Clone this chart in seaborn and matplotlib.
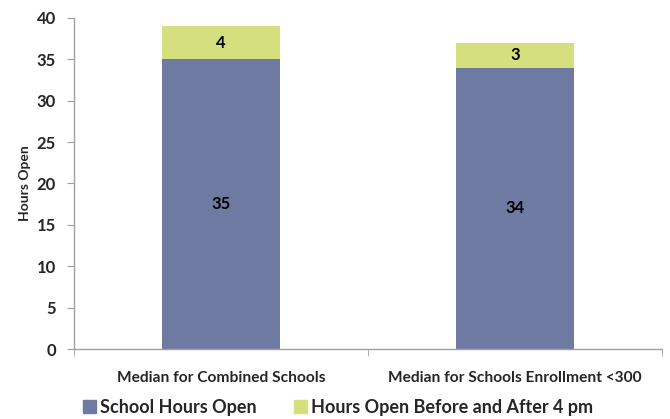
import pandas as pd
import seaborn as sns
import matplotlib.pyplot as plt
from matplotlib.patches import Patch

categories = ['Median for Combined Schools', 'Median for Schools Enrollment <300']
school_hours = [35, 34]
extra_hours = [4, 3]
series_names = ['School Hours Open', 'Hours Open Before and After 4 pm']
blue = '#6f7aa3'
green = '#d5df7d'

sns.set_style('white')
plt.rcParams['font.family'] = ['Lato', 'DejaVu Sans']

df = pd.DataFrame({'cat': categories, 'school': school_hours, 'extra': extra_hours})
df['total'] = df['school'] + df['extra']

fig = plt.figure(figsize=(6.7, 4.19), dpi=100)
ax = fig.add_axes([74 / 670, 1 - 349 / 419, 588 / 670, 331 / 419])

sns.barplot(data=df, x='cat', y='total', color=green, saturation=1, width=0.4,
            linewidth=0, ax=ax)
sns.barplot(data=df, x='cat', y='school', color=blue, saturation=1, width=0.4,
            linewidth=0, ax=ax)

for i, row in df.iterrows():
    ax.text(i, row['school'] / 2, str(row['school']), ha='center', va='center',
            fontsize=12, fontweight='bold', color='black')
    ax.text(i, row['school'] + row['extra'] / 2, str(row['extra']), ha='center', va='center',
            fontsize=12, fontweight='bold', color='black')

ax.set_xlim(-0.5, 1.5)
ax.set_ylim(0, 40)
ax.set_yticks(range(0, 41, 5))
ax.set_yticklabels([str(v) for v in range(0, 41, 5)], fontsize=12, fontweight='bold')
ax.set_xticks([0, 1])
ax.set_xticklabels(categories, fontsize=11.2, fontweight='bold')
ax.set_xticks([-0.5, 0.5, 1.5], minor=True)
ax.tick_params(axis='x', which='major', length=0, pad=16)
ax.tick_params(axis='x', which='minor', length=5, color='#a0a0a0', direction='out', bottom=True)
ax.tick_params(axis='y', length=5, color='#a0a0a0', direction='out', left=True, pad=8)
ax.set_xlabel('')
ax.set_ylabel('Hours Open', fontsize=10, fontweight='bold', labelpad=4)

for side in ['top', 'right']:
    ax.spines[side].set_visible(False)
for side in ['left', 'bottom']:
    ax.spines[side].set_color('#a0a0a0')
    ax.spines[side].set_linewidth(1)

handles = [Patch(color=blue, label=series_names[0]), Patch(color=green, label=series_names[1])]
fig.legend(handles=handles, loc='center', bbox_to_anchor=(0.505, 1 - 407 / 419), ncol=2,
           frameon=False, prop={'size': 13, 'weight': 'bold'},
           handlelength=0.7, handleheight=0.7, handletextpad=0.25, columnspacing=2.05)

fig.savefig('out.png', dpi=100)
